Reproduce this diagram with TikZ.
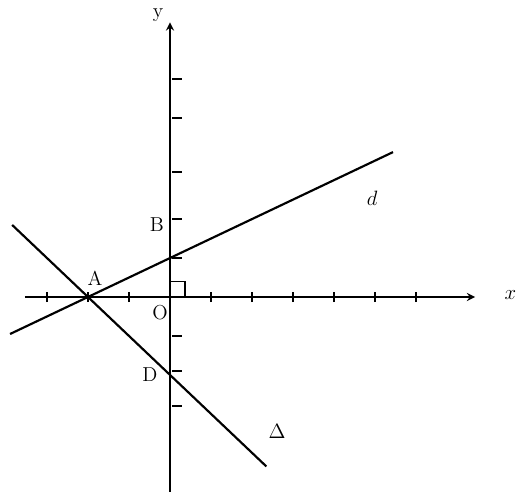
\documentclass[tikz,border=0pt]{standalone}
\usepackage{amsmath}

\begin{document}
\begin{tikzpicture}[>=stealth, x=1cm, y=0.95cm,
    line width=1.5pt,
    lbl/.style={font=\fontsize{14}{16}\selectfont, inner sep=1pt}]

        \useasboundingbox (-4.146,-5.083) rectangle (8.488,7.625);

        % Points
        \coordinate (O) at (0,0);
        \coordinate (A) at (-2,0);
        \coordinate (B) at (0,1);
        \coordinate (D) at (0,-2);
        \coordinate (dL) at (-3.9,-0.95);
        \coordinate (dR) at (5.44,3.72);
        \coordinate (tL) at (-3.85,1.85);
        \coordinate (tR) at (2.35,-4.35);

        % Axes
        \coordinate (xL) at (-3.54,0);
        \coordinate (xR) at (7.44,0);
        \coordinate (yB) at (0,-5.0);
        \coordinate (yT) at (0,7.05);
        \draw[->] (xL) -- (xR);
        \draw[->] (yB) -- (yT);
        \node[lbl] (xlab) at (8.3,0.05) {$x$};
        \node[lbl] (ylab) at (-0.29,7.23) {y};

        % Ticks
        \foreach \t in {-3,-2,-1,1,2,3,4,5,6}
            \draw (\t,-0.13) -- (\t,0.13);
        \foreach \t in {-2.8,-1.9,-1,1,2,3.2,4.6,5.6}
            \draw (0.05,\t) -- (0.3,\t);

        % Right angle
        \draw[line width=1.2pt] (0,0.4) -- (0.36,0.4) -- (0.36,0);

        % Lines
        \draw (dL) -- (dR);
        \draw (tL) -- (tR);

        % Labels
        \node[lbl] (labA) at (-1.83,0.49) {A};
        \node[lbl] (labB) at (-0.32,1.85) {B};
        \node[lbl] (labO) at (-0.24,-0.41) {O};
        \node[lbl] (labD) at (-0.49,-2.0) {D};
        \node[lbl] (labd) at (4.93,2.54) {$d$};
        \node[lbl] (labt) at (2.61,-3.46) {$\Delta$};

    \end{tikzpicture}
\end{document}
